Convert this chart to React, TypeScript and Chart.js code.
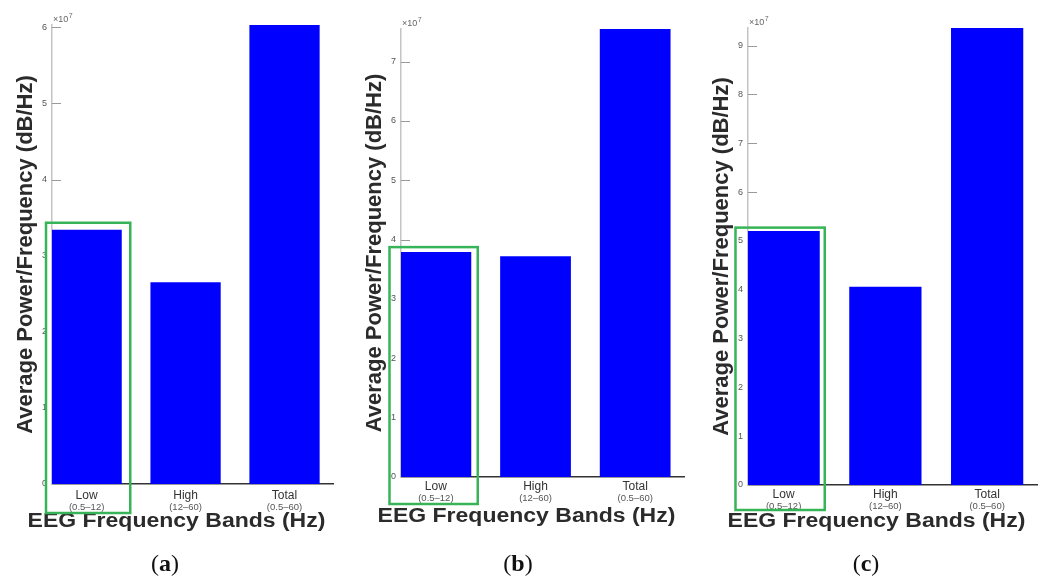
import React, { useEffect, useRef } from 'react';
import { Chart, registerables } from 'chart.js';

Chart.register(...registerables);

// Frequency bands shown on every panel
const bandNames = ['Low', 'High', 'Total'];
const bandRanges = ['(0.5–12)', '(12–60)', '(0.5–60)'];
const bandPositions = [1, 2, 3];

// Average power per band for each recording (dB/Hz)
const powerA = [3.34e7, 2.65e7, 6.03e7];
const powerB = [3.79e7, 3.72e7, 7.55e7];
const powerC = [5.2e7, 4.06e7, 9.36e7];

// Upper y limits of the three panels
const yLimits = [6.03e7, 7.55e7, 9.36e7];
const yTickStep = 1e7;
const yExponent = 7;

const panelLetters = ['a', 'b', 'c'];

const yTitle = 'Average Power/Frequency (dB/Hz)';
const xTitle = 'EEG Frequency Bands (Hz)';

const FONT = "'Liberation Sans', Arial, Helvetica, sans-serif";
const CANVAS_H = 579;
const Y_AXIS_W = 52;
const X_MIN = 0.65;
const X_MAX = 3.49;
const BAR_BLUE = '#0000ff';
const BOX_GREEN = '#37b457';
const X_TITLE_STRETCH = 1.15;

Chart.defaults.font.family = FONT;

type PanelSpec = {
  letter: string;
  values: number[];
  yMax: number;
  left: number;
  width: number;
  padTop: number;
  padRight: number;
  plotBottom: number;
  box: { l: number; r: number; t: number; b: number };
  labelPad: number;
  subDy: number;
  titleDy: number;
  captionX: number;
};

const panels: PanelSpec[] = [
  {
    letter: panelLetters[0], values: powerA, yMax: yLimits[0],
    left: 0, width: 345, padTop: 25, padRight: 12, plotBottom: 484,
    box: { l: 5.5, r: 8.5, t: 7, b: 29 }, labelPad: 4, subDy: 23, titleDy: 37, captionX: 165,
  },
  {
    letter: panelLetters[1], values: powerB, yMax: yLimits[1],
    left: 349, width: 347, padTop: 29, padRight: 12, plotBottom: 477,
    box: { l: 11, r: 6.5, t: 5, b: 27 }, labelPad: 2, subDy: 21, titleDy: 39, captionX: 518,
  },
  {
    letter: panelLetters[2], values: powerC, yMax: yLimits[2],
    left: 696, width: 352, padTop: 28, padRight: 11, plotBottom: 485,
    box: { l: 12, r: 5, t: 3.5, b: 25 }, labelPad: 2, subDy: 21, titleDy: 36, captionX: 866,
  },
];

function BandPanel({ panel }: { panel: PanelSpec }) {
  const ref = useRef<HTMLCanvasElement>(null);

  useEffect(() => {
    const canvas = ref.current;
    if (!canvas) return;

    const overlay = {
      id: 'bandOverlay',
      // short inward tick marks on the y axis, hidden behind the bars
      beforeDatasetsDraw(chart: any) {
        const { ctx, chartArea, scales } = chart;
        const ys = scales.y;
        ctx.save();
        ctx.strokeStyle = '#9a9a9a';
        ctx.lineWidth = 1;
        ys.ticks.forEach((t: any) => {
          if (t.value === 0) return;
          const py = Math.round(ys.getPixelForValue(t.value)) + 0.5;
          ctx.beginPath();
          ctx.moveTo(chartArea.left, py);
          ctx.lineTo(chartArea.left + 9, py);
          ctx.stroke();
        });
        ctx.restore();
      },
      afterDraw(chart: any) {
        const { ctx, chartArea, scales } = chart;
        const xs = scales.x;
        ctx.save();

        // exponent marker above the y axis
        ctx.fillStyle = '#666';
        ctx.textBaseline = 'alphabetic';
        ctx.textAlign = 'left';
        ctx.font = `9px ${FONT}`;
        const baseX = chartArea.left + 1;
        const baseY = chartArea.top - 3;
        ctx.fillText('×10', baseX, baseY);
        const w = ctx.measureText('×10').width;
        ctx.font = `7px ${FONT}`;
        ctx.fillText(String(yExponent), baseX + w + 0.5, baseY - 4);

        // band ranges under the category labels
        ctx.fillStyle = '#555';
        ctx.font = `9.5px ${FONT}`;
        ctx.textAlign = 'center';
        ctx.textBaseline = 'middle';
        bandPositions.forEach((v, i) => {
          ctx.fillText(bandRanges[i], xs.getPixelForValue(v), chartArea.bottom + panel.subDy);
        });

        // x axis title (set slightly wide)
        ctx.save();
        ctx.translate((chartArea.left + chartArea.right) / 2 - 16, chartArea.bottom + panel.titleDy);
        ctx.scale(X_TITLE_STRETCH, 1);
        ctx.fillStyle = '#2b2b2b';
        ctx.font = `bold 20px ${FONT}`;
        ctx.fillText(xTitle, 0, 0);
        ctx.restore();

        // highlight frame around the low band
        const bar = chart.getDatasetMeta(0).data[0];
        const bl = bar.x - bar.width / 2 - panel.box.l;
        const br = bar.x + bar.width / 2 + panel.box.r;
        const bt = bar.y - panel.box.t;
        const bb = chartArea.bottom + panel.box.b;
        ctx.strokeStyle = BOX_GREEN;
        ctx.lineWidth = 2.5;
        ctx.strokeRect(bl, bt, br - bl, bb - bt);

        ctx.restore();
      },
    };

    const chart = new Chart(canvas, {
      type: 'bar',
      data: {
        datasets: [
          {
            data: bandPositions.map((x, i) => ({ x, y: panel.values[i] })),
            backgroundColor: BAR_BLUE,
            borderWidth: 0,
            categoryPercentage: 1,
            barPercentage: 0.71,
          },
        ],
      },
      options: {
        animation: false,
        responsive: false,
        devicePixelRatio: 1,
        layout: { padding: { left: 0, top: panel.padTop, right: panel.padRight, bottom: 0 } },
        plugins: { legend: { display: false }, tooltip: { enabled: false } },
        scales: {
          x: {
            type: 'linear',
            bounds: 'data',
            min: X_MIN,
            max: X_MAX,
            offset: false,
            z: 1,
            grid: { display: false, drawTicks: false },
            border: { display: true, color: '#333', width: 1.5 },
            afterBuildTicks: (s: any) => {
              s.ticks = bandPositions.map((v) => ({ value: v }));
            },
            afterFit: (s: any) => {
              s.height = CANVAS_H - panel.plotBottom;
            },
            ticks: {
              callback: (_v: any, i: number) => bandNames[i],
              font: { size: 12 },
              color: '#333',
              padding: panel.labelPad,
              maxRotation: 0,
              autoSkip: false,
            },
          },
          y: {
            type: 'linear',
            bounds: 'data',
            min: 0,
            max: panel.yMax,
            grid: { display: false, drawTicks: false },
            border: { display: true, color: '#c4c4c4', width: 1.5 },
            // whole multiples of the exponent step, up to the axis limit
            afterBuildTicks: (s: any) => {
              const ticks: { value: number }[] = [];
              for (let k = 0; k * yTickStep <= panel.yMax; k++) ticks.push({ value: k * yTickStep });
              s.ticks = ticks;
            },
            afterFit: (s: any) => {
              s.width = Y_AXIS_W;
            },
            ticks: {
              callback: (v: any) => String(Math.round(Number(v) / yTickStep)),
              font: { size: 9 },
              color: '#555',
              padding: 5,
            },
            title: {
              display: true,
              text: yTitle,
              color: '#2b2b2b',
              font: { size: 22, weight: 'bold' },
              padding: { top: 13, bottom: 0 },
            },
          },
        },
      } as any,
      plugins: [overlay],
    });

    return () => chart.destroy();
  }, [panel]);

  return (
    <canvas
      ref={ref}
      width={panel.width}
      height={CANVAS_H}
      style={{ position: 'absolute', left: panel.left, top: 0, width: panel.width, height: CANVAS_H }}
    />
  );
}

export default function App() {
  return (
    <div
      style={{
        position: 'fixed',
        left: 0,
        top: 0,
        width: 1048,
        height: 579,
        background: '#fff',
        overflow: 'hidden',
      }}
    >
      {panels.map((p) => (
        <BandPanel key={p.letter} panel={p} />
      ))}
      {panels.map((p) => (
        <div
          key={'cap-' + p.letter}
          style={{
            position: 'absolute',
            left: p.captionX - 50,
            top: 550,
            width: 100,
            textAlign: 'center',
            font: "24px 'Liberation Serif', 'Times New Roman', serif",
            lineHeight: '26px',
            color: '#111',
          }}
        >
          (<b>{p.letter}</b>)
        </div>
      ))}
    </div>
  );
}
